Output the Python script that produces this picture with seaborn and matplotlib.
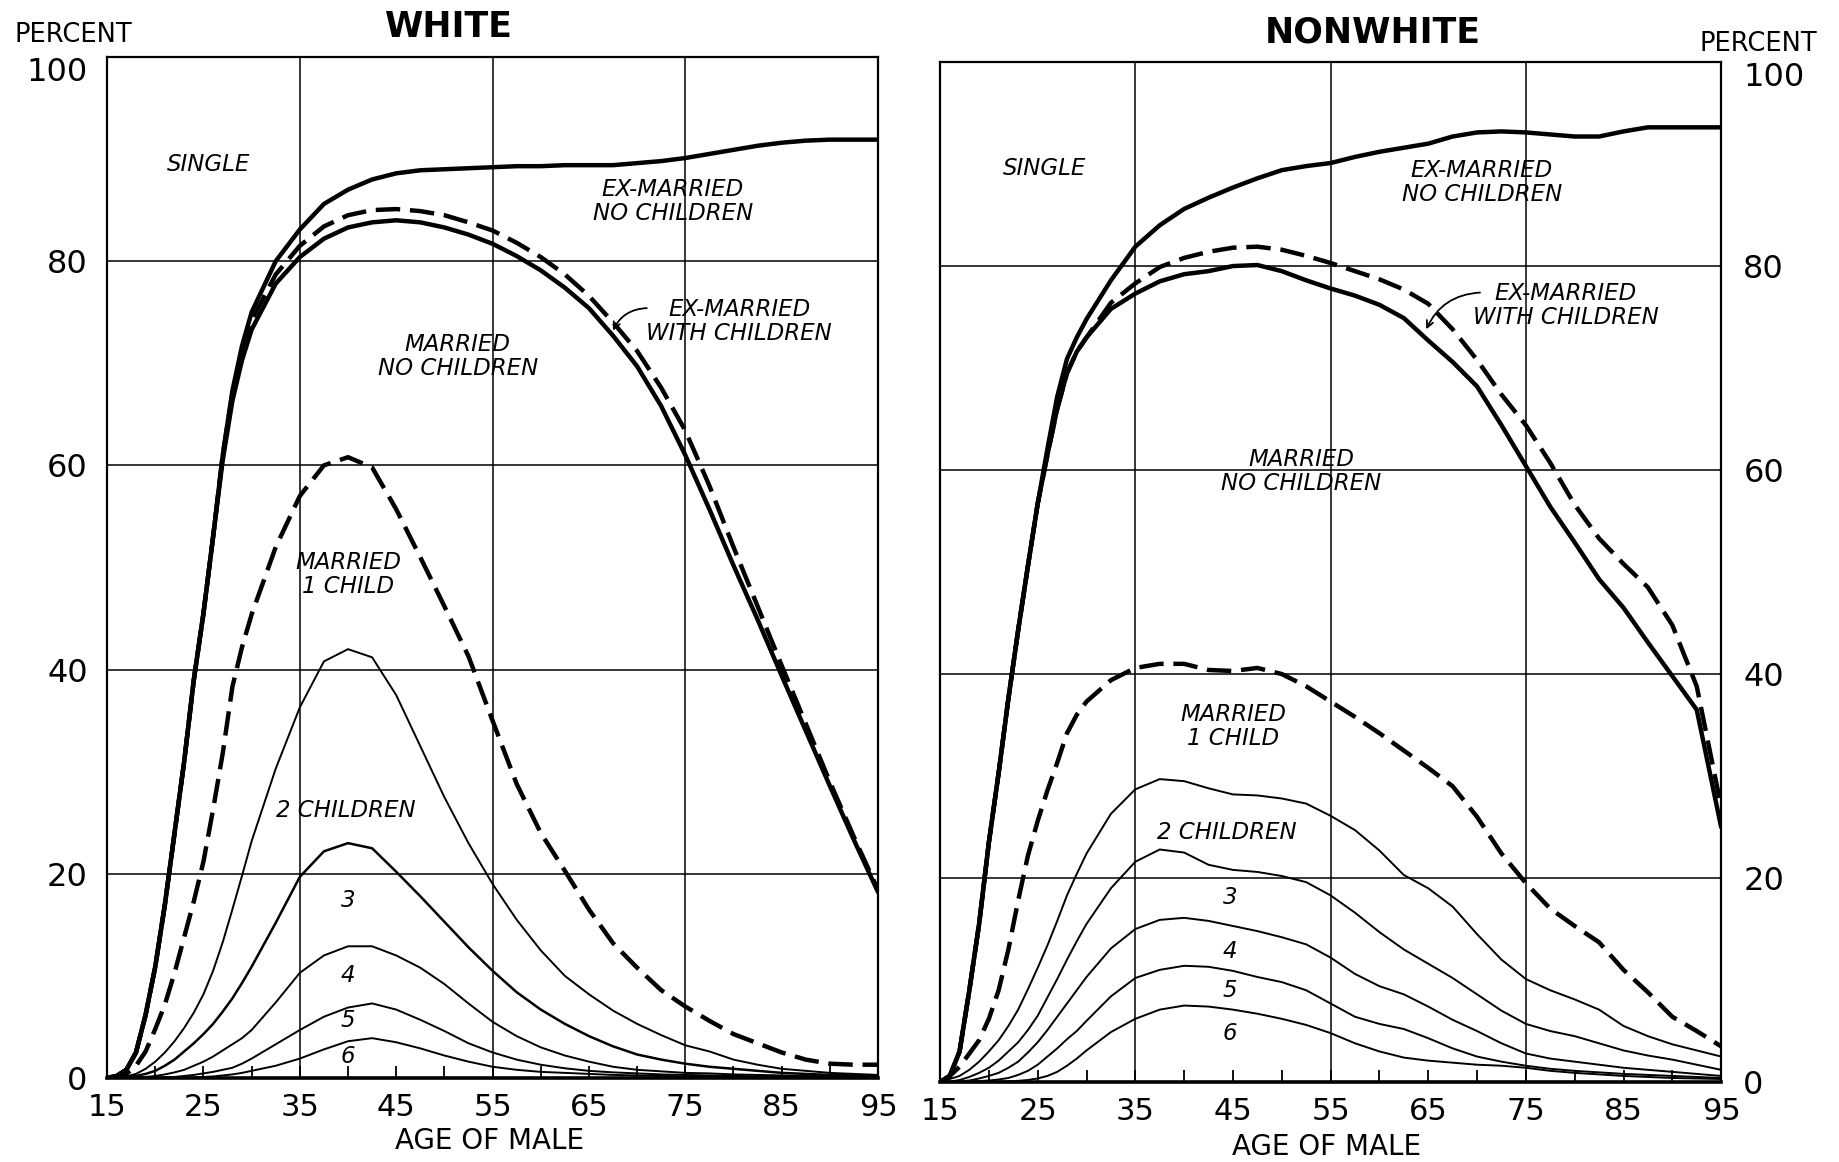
import matplotlib
matplotlib.use("Agg")
import matplotlib.pyplot as plt
import seaborn as sns

# ---------------- data ----------------
AGES = [15, 16, 17, 18, 19, 20, 21, 22, 23, 24, 25, 26, 27, 28, 29, 30,
        32.5, 35, 37.5, 40, 42.5, 45, 47.5, 50, 52.5, 55, 57.5, 60, 62.5, 65,
        67.5, 70, 72.5, 75, 77.5, 80, 82.5, 85, 87.5, 90, 92.5, 95]

# WHITE: cumulative boundaries (percent)
W_SINGLE = [0, 0.2, 0.8, 2.5, 6.2, 10.9, 17, 24, 31, 39, 45.5, 53, 61, 67.3, 71.7, 75,
            80, 83.1, 85.6, 87, 88, 88.6, 88.9, 89, 89.1, 89.2, 89.3, 89.3, 89.4, 89.4,
            89.4, 89.6, 89.8, 90.1, 90.5, 90.9, 91.3, 91.6, 91.8, 91.9, 91.9, 91.9]
W_EXMAR = [0, 0.2, 0.8, 2.5, 6.2, 10.9, 17, 24, 31, 39, 45.5, 53, 61, 67, 71.2, 74.2,
           78.7, 81.5, 83.4, 84.5, 85.0, 85.1, 84.9, 84.5, 83.8, 83.0, 81.8, 80.4, 78.7, 76.6,
           74.0, 71.2, 67.6, 63.4, 58.0, 52.0, 46.2, 40.4, 34.7, 29.0, 23.6, 18.4]
W_MARNO = [0, 0.2, 0.8, 2.5, 6.2, 10.9, 17, 24, 31, 39, 45.5, 53, 60.5, 66.3, 70.3, 73.3,
           77.8, 80.4, 82.2, 83.3, 83.8, 84.0, 83.8, 83.3, 82.6, 81.7, 80.5, 79.1, 77.4, 75.4,
           72.7, 69.7, 65.8, 61.0, 55.7, 50.2, 44.9, 39.4, 34.0, 28.6, 23.3, 18.2]
W_CH1 = [0, 0.1, 0.4, 1.2, 2.6, 4.8, 7.2, 10.3, 13.8, 17.3, 21.2, 26.3, 31.8, 38.3, 42.2, 45.4,
         52, 57, 60, 60.8, 59.8, 55.7, 51, 46.2, 41.3, 35, 28.8, 24, 20.3, 16.5,
         13.2, 10.8, 8.6, 7.0, 5.6, 4.3, 3.4, 2.5, 1.8, 1.4, 1.3, 1.3]
W_CH2 = [0, 0.05, 0.15, 0.4, 0.9, 1.6, 2.5, 3.6, 4.9, 6.4, 8.2, 10.5, 13.3, 16.5, 19.8, 23.2,
         30.3, 36.3, 40.8, 42.0, 41.2, 37.5, 32.5, 27.5, 23, 19, 15.5, 12.5, 10, 8.2,
         6.6, 5.3, 4.2, 3.2, 2.6, 1.8, 1.3, 0.9, 0.7, 0.5, 0.4, 0.3]
W_CH3 = [0, 0.02, 0.08, 0.2, 0.4, 0.7, 1.2, 1.8, 2.6, 3.4, 4.3, 5.3, 6.5, 7.8, 9.3, 10.9,
         15.2, 19.7, 22.2, 23.0, 22.5, 20.2, 17.8, 15.3, 12.8, 10.5, 8.4, 6.7, 5.3, 4.1,
         3.1, 2.3, 1.8, 1.4, 1.1, 0.9, 0.7, 0.5, 0.4, 0.3, 0.25, 0.2]
W_CH4 = [0, 0, 0.02, 0.05, 0.1, 0.2, 0.35, 0.55, 0.8, 1.2, 1.6, 2.1, 2.7, 3.3, 3.9, 4.7,
         7.4, 10.3, 12.0, 12.9, 12.9, 12.0, 10.8, 9.2, 7.3, 5.5, 4.1, 3.0, 2.2, 1.6,
         1.1, 0.8, 0.65, 0.5, 0.45, 0.35, 0.3, 0.25, 0.2, 0.2, 0.15, 0.15]
W_CH5 = [0, 0, 0, 0.01, 0.02, 0.05, 0.07, 0.1, 0.2, 0.3, 0.45, 0.6, 0.8, 1.0, 1.4, 1.9,
         3.3, 4.7, 6.0, 6.9, 7.3, 6.7, 5.7, 4.6, 3.4, 2.5, 1.8, 1.3, 0.95, 0.7,
         0.55, 0.45, 0.35, 0.3, 0.25, 0.2, 0.18, 0.15, 0.12, 0.1, 0.1, 0.1]
W_CH6 = [0, 0, 0, 0, 0, 0, 0, 0.02, 0.03, 0.05, 0.1, 0.15, 0.25, 0.35, 0.5, 0.7,
         1.2, 1.9, 2.8, 3.6, 3.9, 3.5, 2.9, 2.2, 1.6, 1.1, 0.8, 0.6, 0.5, 0.4,
         0.3, 0.25, 0.2, 0.15, 0.12, 0.1, 0.08, 0.06, 0.05, 0.05, 0.05, 0.05]

# NONWHITE: cumulative boundaries (percent)
N_SINGLE = [0, 0.6, 3, 9, 15.5, 23.5, 30.3, 37.6, 44.3, 50.6, 56.7, 62.1, 67.2, 70.9, 73, 74.8,
            78.6, 81.9, 84, 85.6, 86.7, 87.7, 88.6, 89.4, 89.8, 90.1, 90.7, 91.2, 91.6, 92.0,
            92.7, 93.1, 93.2, 93.1, 92.9, 92.7, 92.7, 93.2, 93.6, 93.6, 93.6, 93.6]
N_EXMAR = [0, 0.6, 3, 9, 15.5, 23.5, 30.3, 37.6, 44.3, 50.6, 56.7, 61.5, 66, 69.5, 71.6, 73,
           76.4, 78.3, 79.9, 80.8, 81.4, 81.8, 81.9, 81.6, 81.0, 80.3, 79.5, 78.7, 77.7, 76.3,
           73.8, 70.8, 67.4, 64.4, 60.7, 56.6, 53.3, 50.8, 48.5, 44.8, 38.8, 27]
N_MARNO = [0, 0.6, 3, 9, 15.5, 23.5, 30.3, 37.6, 44.3, 50.6, 56.7, 61.5, 66, 69.5, 71.6, 73,
           75.8, 77.3, 78.5, 79.2, 79.5, 80.0, 80.1, 79.5, 78.6, 77.8, 77.1, 76.2, 74.9, 72.7,
           70.6, 68.2, 64.4, 60.4, 56.4, 52.9, 49.3, 46.5, 43.1, 39.8, 36.5, 25]
N_CH1 = [0, 0.6, 1.5, 2.8, 4.1, 6.2, 9, 13, 17.8, 22.2, 25.6, 28.6, 31.3, 34.2, 36, 37.3,
         39.4, 40.6, 41, 41, 40.4, 40.3, 40.6, 40, 38.8, 37.3, 35.8, 34.2, 32.5, 30.8,
         29, 26, 22.4, 19.5, 17, 15.3, 13.7, 11, 8.8, 6.4, 5.0, 3.5]
N_CH2 = [0, 0.3, 0.6, 1.2, 2.0, 3.0, 4.1, 5.5, 7.1, 9.1, 11.2, 13.4, 15.8, 18.3, 20.4, 22.4,
         26.3, 28.7, 29.7, 29.5, 28.8, 28.2, 28.1, 27.8, 27.3, 26.1, 24.7, 22.7, 20.3, 19.0,
         17.2, 14.5, 12.0, 10.1, 9.0, 8.1, 7.1, 5.5, 4.5, 3.7, 3.1, 2.5]
N_CH3 = [0, 0.05, 0.2, 0.5, 0.9, 1.4, 2.1, 3.0, 3.9, 5.1, 6.5, 8.3, 10.1, 12.0, 13.8, 15.5,
         19.0, 21.6, 22.8, 22.5, 21.3, 20.8, 20.6, 20.2, 19.6, 18.3, 16.6, 14.7, 13.0, 11.6,
         10.2, 8.6, 7.0, 5.7, 5.0, 4.5, 3.8, 3.1, 2.6, 2.2, 1.7, 1.2]
N_CH4 = [0, 0.02, 0.07, 0.15, 0.35, 0.6, 0.9, 1.4, 2.0, 2.9, 3.9, 5.1, 6.4, 7.7, 9.0, 10.3,
         13.1, 15.0, 15.9, 16.1, 15.8, 15.3, 14.8, 14.2, 13.5, 12.2, 10.6, 9.4, 8.6, 7.4,
         6.1, 5.0, 3.8, 2.8, 2.3, 2.0, 1.7, 1.4, 1.2, 1.0, 0.8, 0.6]
N_CH5 = [0, 0, 0.02, 0.05, 0.1, 0.15, 0.25, 0.4, 0.7, 1.1, 1.7, 2.5, 3.3, 4.2, 5.0, 6.0,
         8.4, 10.2, 11.0, 11.4, 11.3, 10.9, 10.3, 9.8, 9.0, 7.7, 6.4, 5.7, 5.2, 4.3,
         3.3, 2.5, 2.0, 1.6, 1.3, 1.1, 0.95, 0.8, 0.7, 0.6, 0.5, 0.4]
N_CH6 = [0, 0, 0, 0.01, 0.02, 0.03, 0.05, 0.08, 0.12, 0.2, 0.35, 0.6, 1.0, 1.6, 2.3, 3.1,
         4.9, 6.2, 7.1, 7.5, 7.4, 7.1, 6.7, 6.2, 5.6, 4.8, 3.8, 3.0, 2.4, 2.1,
         1.9, 1.7, 1.6, 1.4, 1.1, 0.9, 0.75, 0.6, 0.5, 0.4, 0.35, 0.3]

X_TICKS = [15, 25, 35, 45, 55, 65, 75, 85, 95]
Y_TICKS = [0, 20, 40, 60, 80, 100]
GRID_X = [35, 55, 75]
GRID_Y = [20, 40, 60, 80]

# ---------------- style ----------------
sns.set_theme(style="white")
plt.rcParams["font.family"] = ["DejaVu Sans"]
plt.rcParams["text.color"] = "black"
plt.rcParams["axes.labelcolor"] = "black"
plt.rcParams["xtick.color"] = "black"
plt.rcParams["ytick.color"] = "black"

THICK = 3.2
THIN = 1.4
DASH = (0, (5.5, 2.2))

fig = plt.figure(figsize=(18.4, 11.62), dpi=100)
fig.patch.set_facecolor("white")
axL = fig.add_axes([0.0582, 0.0723, 0.4190, 0.8787])
axR = fig.add_axes([0.5109, 0.0688, 0.4245, 0.8778])


def draw_panel(ax, series):
    for vals, lw, ls in series:
        sns.lineplot(x=AGES, y=vals, ax=ax, color="black", linewidth=lw,
                     linestyle=ls, estimator=None, sort=False, legend=False,
                     solid_joinstyle="round")
    ax.set_xlim(15, 95)
    ax.set_ylim(0, 100)
    for gx in GRID_X:
        ax.axvline(gx, color="black", lw=1.1, zorder=0)
    for gy in GRID_Y:
        ax.axhline(gy, color="black", lw=1.1, zorder=0)
    for sp in ax.spines.values():
        sp.set_color("black")
        sp.set_linewidth(1.6)
    ax.spines["bottom"].set_linewidth(2.6)
    ax.set_xticks(X_TICKS)
    ax.set_xticks([20, 30, 40, 50, 60, 70, 80, 90], minor=True)
    ax.set_xticklabels([str(t) for t in X_TICKS], fontsize=22)
    ax.tick_params(axis="x", which="both", direction="in", length=9, width=1.3,
                   colors="black", pad=11, bottom=True)
    ax.set_yticks(Y_TICKS)
    ax.set_yticklabels([str(t) for t in Y_TICKS], fontsize=23)
    ax.tick_params(axis="y", length=0, pad=14, labelcolor="black")
    ax.set_xlabel("")
    ax.set_ylabel("")
    ax.set_facecolor("white")


draw_panel(axL, [
    (W_SINGLE, THICK, "-"),
    (W_EXMAR, THICK, DASH),
    (W_MARNO, THICK, "-"),
    (W_CH1, THICK, DASH),
    (W_CH2, THIN, "-"),
    (W_CH3, THIN + 0.4, "-"),
    (W_CH4, THIN, "-"),
    (W_CH5, THIN, "-"),
    (W_CH6, THIN, "-"),
])
draw_panel(axR, [
    (N_SINGLE, THICK, "-"),
    (N_EXMAR, THICK, DASH),
    (N_MARNO, THICK, "-"),
    (N_CH1, THICK, DASH),
    (N_CH2, THIN, "-"),
    (N_CH3, THIN, "-"),
    (N_CH4, THIN, "-"),
    (N_CH5, THIN, "-"),
    (N_CH6, THIN, "-"),
])
axR.yaxis.tick_right()
axR.tick_params(axis="y", length=0, pad=16, labelcolor="black")

# ---------------- region labels ----------------
lab = dict(fontsize=16.5, style="italic", color="black", ha="center", va="center",
           linespacing=1.05)

axL.text(25.5, 89.5, "SINGLE", **lab)
axL.text(73.7, 85.8, "EX-MARRIED\nNO CHILDREN", **lab)
axL.text(51.4, 70.7, "MARRIED\nNO CHILDREN", **lab)
axL.text(80.6, 74.1, "EX-MARRIED\nWITH CHILDREN", **lab)
axL.annotate("", xy=(67.5, 73.2), xytext=(71.0, 75.4),
             arrowprops=dict(arrowstyle="->", color="black", lw=1.3,
                             connectionstyle="arc3,rad=0.3", shrinkA=0, shrinkB=0))
axL.text(40.0, 49.3, "MARRIED\n1 CHILD", **lab)
axL.text(39.8, 26.2, "2 CHILDREN", **lab)
axL.text(40.0, 17.4, "3", **lab)
axL.text(40.0, 10.0, "4", **lab)
axL.text(40.0, 5.6, "5", **lab)
axL.text(40.0, 2.1, "6", **lab)

axR.text(25.7, 89.6, "SINGLE", **lab)
axR.text(70.5, 88.2, "EX-MARRIED\nNO CHILDREN", **lab)
axR.text(79.1, 76.1, "EX-MARRIED\nWITH CHILDREN", **lab)
axR.annotate("", xy=(64.8, 73.8), xytext=(70.3, 77.4),
             arrowprops=dict(arrowstyle="->", color="black", lw=1.3,
                             connectionstyle="arc3,rad=0.3", shrinkA=0, shrinkB=0))
axR.text(52.0, 59.9, "MARRIED\nNO CHILDREN", **lab)
axR.text(45.0, 34.9, "MARRIED\n1 CHILD", **lab)
axR.text(44.4, 24.5, "2 CHILDREN", **lab)
axR.text(44.7, 18.1, "3", **lab)
axR.text(44.7, 12.8, "4", **lab)
axR.text(44.7, 9.0, "5", **lab)
axR.text(44.7, 4.8, "6", **lab)

# ---------------- titles & axis captions ----------------
fig.text(0.244, 0.977, "WHITE", fontsize=25, fontweight="bold", ha="center", va="center", color="black")
fig.text(0.746, 0.972, "NONWHITE", fontsize=25, fontweight="bold", ha="center", va="center", color="black")
fig.text(0.040, 0.970, "PERCENT", fontsize=18.5, ha="center", va="center", color="black")
fig.text(0.9555, 0.962, "PERCENT", fontsize=18.5, ha="center", va="center", color="black")
fig.text(0.2663, 0.018, "AGE OF MALE", fontsize=20, ha="center", va="center", color="black")
fig.text(0.7212, 0.013, "AGE OF MALE", fontsize=20, ha="center", va="center", color="black")

# the "100" labels sit just below the top frame line, as in the original
for ax in (axL, axR):
    for t in ax.get_yticklabels():
        if t.get_text() == "100":
            t.set_va("top")

fig.savefig("out.png", dpi=100, facecolor="white")
